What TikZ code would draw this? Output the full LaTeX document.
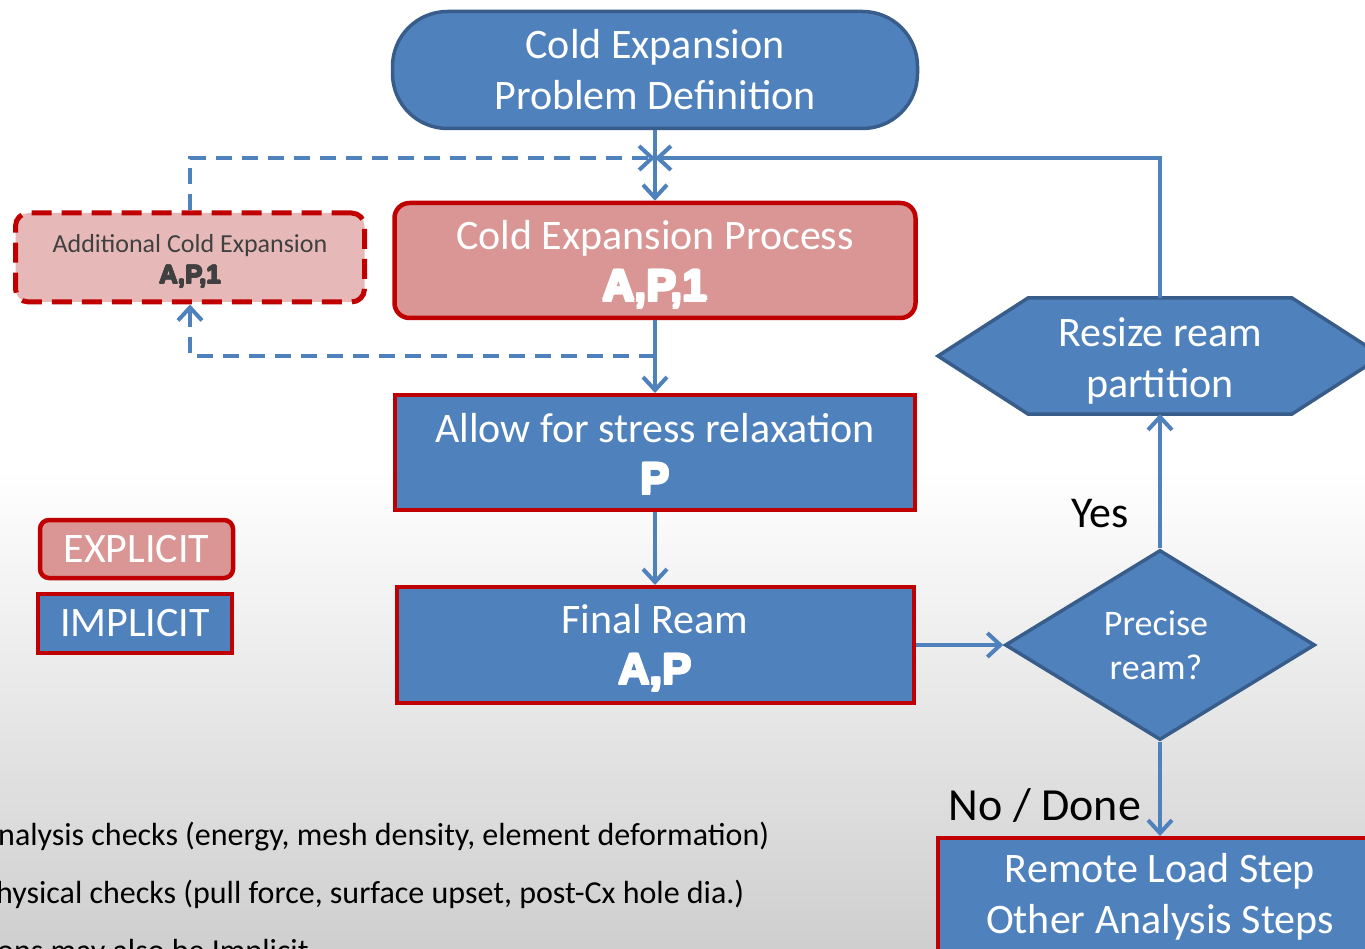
\documentclass[tikz,border=0pt]{standalone}
\usepackage{fontspec}
\setmainfont{Carlito}
\newfontfamily\heavyfont{Liberation Sans}
\usetikzlibrary{arrows.meta,shapes.geometric}
\definecolor{cblue}{HTML}{4F81BD}
\definecolor{cdblue}{HTML}{385D8A}
\definecolor{cred}{HTML}{C00000}
\definecolor{cpink}{HTML}{D99694}
\definecolor{clpink}{HTML}{E6B9B8}
\definecolor{ctxt}{HTML}{404040}
\newcommand{\hvd}{1.3pt}
\newcommand{\hv}[1]{{\heavyfont\bfseries\leavevmode
  \rlap{\kern-\hvd #1}\rlap{\kern\hvd #1}%
  \rlap{\raisebox{\hvd}{#1}}\rlap{\raisebox{-\hvd}{#1}}%
  \rlap{\kern-0.9\dimexpr\hvd\relax\raisebox{0.9\dimexpr\hvd\relax}{#1}}%
  \rlap{\kern0.9\dimexpr\hvd\relax\raisebox{0.9\dimexpr\hvd\relax}{#1}}%
  \rlap{\kern-0.9\dimexpr\hvd\relax\raisebox{-0.9\dimexpr\hvd\relax}{#1}}%
  \rlap{\kern0.9\dimexpr\hvd\relax\raisebox{-0.9\dimexpr\hvd\relax}{#1}}%
  #1}}
\newcommand{\strt}[1]{\rule{0pt}{#1}}
\begin{document}
\begin{tikzpicture}[x=1pt,y=-1pt,
  big/.style={font=\fontsize{42}{51}\selectfont},
  implicitbox/.style={draw=cred, line width=4pt, fill=cblue, text=white, inner sep=0pt, align=center, big},
  explicitbox/.style={draw=cred, line width=4.5pt, fill=cpink, text=white, inner sep=0pt, align=center, rounded corners=15pt, big},
  shapeblue/.style={draw=cdblue, line width=3.5pt, fill=cblue, text=white, inner sep=0pt, align=center},
  conn/.style={draw=cblue, line width=4pt, -{Straight Barb[length=13pt,width=24pt]}},
  dconn/.style={conn, dash pattern=on 16pt off 10pt},
  plain/.style={text=black, inner sep=0pt}
]
\useasboundingbox (0,0) rectangle (1365,949);
\clip (0,0) rectangle (1365,949);
\fill[white] (0,0) rectangle (1365,949);
\shade[top color=white, bottom color=black!19] (0,470) rectangle (1365,949);

% nodes
\node[shapeblue, big, minimum width=525pt, minimum height=117pt, rounded corners=55pt] (top) at (655,70)
  {Cold Expansion\\Problem Definition};
\node[explicitbox, minimum width=521pt, minimum height=115pt] (cep) at (655,260.5)
  {\strt{38pt}Cold Expansion Process\\\hv{\fontsize{44}{51}\selectfont A,P,1}};
\node[draw=cred, line width=5pt, dash pattern=on 20pt off 10pt, fill=clpink, text=ctxt, rounded corners=13pt,
  minimum width=349pt, minimum height=89pt, inner sep=0pt, align=center, font=\fontsize{26}{31}\selectfont] (add) at (190,257.5)
  {\strt{26pt}Additional Cold Expansion\\{\renewcommand{\hvd}{0.7pt}\hv{\fontsize{26}{31}\selectfont A,P,1}}};
\node[implicitbox, minimum width=520pt, minimum height=115pt] (allow) at (655,452.5)
  {\strt{33pt}Allow for stress relaxation\\\hv{\fontsize{44}{51}\selectfont P}};
\node[implicitbox, minimum width=517pt, minimum height=116pt] (ream) at (655,645)
  {\strt{36pt}Final Ream\\\hv{\fontsize{44}{51}\selectfont A,P}};

\fill[cblue, draw=cdblue, line width=3.5pt, line join=miter]
  (938,356) -- (1028,298) -- (1292,298) -- (1382,356) -- (1292,414) -- (1028,414) -- cycle;
\node[text=white, inner sep=0pt, outer sep=0pt, align=center, big, minimum width=444pt, minimum height=116pt] (resize) at (1160,356)
  {\strt{38pt}Resize ream\\partition};

\node[shapeblue, shape=diamond, aspect=1.63, minimum width=310pt, minimum height=190pt,
  font=\fontsize{36}{44}\selectfont] (prec) at (1160,645) {\hspace*{-8pt}Precise\\\hspace*{-8pt}ream?};

\node[implicitbox, minimum width=444pt, minimum height=118pt] (remote) at (1160,897)
  {Remote Load Step\\Other Analysis Steps};

\node[explicitbox, rounded corners=9pt, minimum width=193pt, minimum height=58pt] (lexp) at (136.5,549) {EXPLICIT};
\node[implicitbox, minimum width=194pt, minimum height=59pt] (limp) at (135,623.5) {IMPLICIT};

\node[plain, font=\fontsize{44}{51}\selectfont] (yes) at (1100,514) {Yes};
\node[plain, font=\fontsize{46}{51}\selectfont] (no) at (1045,806) {No / Done};

\node[plain, anchor=base west, font=\fontsize{32}{36}\selectfont] (t1) at (-2,845)
  {nalysis checks (energy, mesh density, element deformation)};
\node[plain, anchor=base west, font=\fontsize{32}{36}\selectfont] (t2) at (-4,903)
  {hysical checks (pull force, surface upset, post-Cx hole dia.)};
\node[plain, anchor=base west, font=\fontsize{32}{36}\selectfont] (t3) at (-3,961)
  {ons may also be Implicit};

% connectors
\coordinate (j) at (655,158);
\coordinate (k) at (655,356);
\draw[conn] (top.south) -- (cep.north);
\draw[conn] (resize.north) |- (j);
\draw[dconn] (add.north) |- (j);
\draw[conn] (cep.south) -- (allow.north);
\draw[dconn] (k) -| (add.south);
\draw[conn] (allow.south) -- (ream.north);
\draw[conn] (ream.east) -- (prec.west);
\draw[conn] (prec.north) -- (resize.south);
\draw[conn] (prec.south) -- (remote.north);
\end{tikzpicture}
\end{document}
